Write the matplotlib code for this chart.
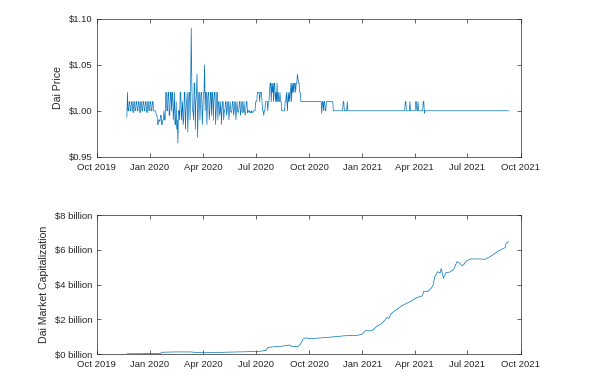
import numpy as np
import pandas as pd
import matplotlib
matplotlib.use("Agg")
import matplotlib.pyplot as plt
import matplotlib.dates as mdates
from matplotlib.ticker import FuncFormatter, MultipleLocator

# ===== 全局设置 =====
plt.rcParams.update({
    'font.family': ['Liberation Sans', 'DejaVu Sans'],
    'xtick.direction': 'in',
    'ytick.direction': 'in',
    'xtick.top': True,
    'ytick.right': True,
})

# ===== Dai 价格：2019-11-22 起的日度数据 =====
price_start = "2019-11-22"
price_daily = [
    # 2019-11-22 起
    0.993, 1.02, 1.00, 1.00, 1.01, 1.01, 1.00, 1.00, 1.01, 1.01,
    1.00, 0.998, 1.01, 1.01, 1.00, 1.00, 1.01, 1.01, 1.00, 1.00,
    1.01, 1.01, 1.00, 0.998, 1.01, 1.01, 1.00, 1.00, 1.01, 1.01,
    1.00, 1.00, 1.01, 1.01, 1.00, 0.998, 1.01, 1.01, 1.00, 1.00,
    1.01, 1.01, 1.00, 1.00, 1.01, 1.01, 1.00, 1.00, 1.00,
    # 2020-01 下跌
    1.00, 0.998, 0.995, 0.995, 0.985, 0.985, 0.99, 0.99, 0.988, 0.995,
    0.995, 0.985, 0.985, 0.99, 0.99, 1.00, 0.99, 0.99,
    # 2020-01-28 起
    1.02, 1.02, 1.00, 1.00, 1.02, 1.02, 0.995, 0.995, 1.02, 1.02,
    1.00, 1.02, 1.02, 0.99, 1.00, 1.02, 0.985, 0.985, 1.01, 0.98,
    0.99, 0.965,
    1.00, 1.00, 0.99, 1.02, 1.02, 0.99, 1.00, 1.01, 0.985, 0.99,
    1.02, 1.02, 0.98, 1.00, 1.01, 1.02, 0.977, 1.00, 1.02, 1.02,
    0.99, 1.03,
    # 2020-03-12
    1.09,
    1.03, 1.00, 1.00, 0.99, 1.03, 1.03, 0.98, 1.01, 1.02, 1.04,
    0.971, 1.00, 1.02, 1.02, 0.99, 1.01, 1.02, 1.02, 0.985, 1.00,
    1.02, 1.02,
    1.05,
    1.00, 1.02, 1.02, 0.985, 1.01, 1.02, 1.02, 0.99, 1.00,
    1.02, 1.02, 0.995, 1.02, 1.02, 0.99, 1.01, 1.02, 1.02, 0.985,
    1.00, 1.02, 1.02, 0.99, 1.01, 1.01, 0.995, 1.00, 1.01, 0.985,
    1.00, 1.01, 1.01, 0.99, 1.00, 1.00,
    # 2020-05-10 起
    1.01, 1.01, 0.995, 1.00, 1.01, 1.01, 0.99, 1.00, 1.01, 1.00,
    0.998, 1.00, 1.01, 1.01, 0.995, 1.00, 1.01, 1.01, 0.99, 1.00,
    1.01, 1.00, 0.998, 1.00, 1.01, 1.01, 0.995, 1.00, 1.01, 1.01,
    0.998, 1.00, 1.01, 1.00, 0.995, 1.00, 1.01, 1.01, 0.998, 1.00,
    1.00, 0.998, 1.00,
    0.998, 0.998, 1.00, 0.998, 0.998, 1.00, 1.00, 1.00, 1.00,
    1.01, 1.01, 1.01, 1.02,
    1.02, 1.02, 1.02, 1.01, 1.02, 1.02, 1.02, 1.01,
    1.00, 1.00, 0.995, 1.00, 1.00,
    1.01, 1.01, 1.01, 1.01, 1.00, 1.01, 1.01, 1.02, 1.03,
    1.03, 1.01, 1.03, 1.02, 1.03, 1.01, 1.03, 1.03, 1.01, 1.02,
    1.01, 1.03, 1.01, 1.02, 1.01, 1.01, 1.02, 1.01, 1.01, 1.00,
    1.00, 1.00, 1.00, 1.00, 1.00, 1.01,
    1.01, 1.02, 1.01, 1.00, 1.02, 1.01, 1.02, 1.01,
    1.02, 1.03, 1.01, 1.03, 1.02, 1.03, 1.02, 1.03, 1.03, 1.02,
    1.03, 1.03,
    1.04, 1.035, 1.03, 1.03, 1.02, 1.02,
]

# 之后价格基本稳定，只记录变化点
calm_dates = [
    "2020-09-17", "2020-10-22", "2020-10-23", "2020-10-24", "2020-10-25",
    "2020-10-26", "2020-10-27", "2020-10-28", "2020-10-29", "2020-10-30",
    "2020-10-31", "2020-11-11", "2020-11-12", "2020-11-28", "2020-11-29",
    "2020-11-30", "2020-12-01", "2020-12-05", "2020-12-06", "2020-12-07",
    "2021-03-15", "2021-03-16", "2021-03-17", "2021-03-18", "2021-03-23",
    "2021-03-24", "2021-03-25", "2021-04-02", "2021-04-03", "2021-04-04",
    "2021-04-05", "2021-04-06", "2021-04-07", "2021-04-08", "2021-04-15",
    "2021-04-16", "2021-04-17", "2021-04-18", "2021-04-19", "2021-09-10",
]
calm_prices = [
    1.01, 1.01, 0.997, 1.01, 1.01,
    1.00, 1.01, 1.01, 1.00, 1.00,
    1.01, 1.01, 1.00, 1.00, 1.01,
    1.01, 1.00, 1.00, 1.01, 1.00,
    1.00, 1.01, 1.01, 1.00, 1.00,
    1.01, 1.00, 1.00, 1.01, 1.01,
    1.00, 1.00, 1.01, 1.00, 1.00,
    1.01, 1.01, 0.997, 1.00, 1.00,
]

# ===== Dai 市值（十亿美元） =====
cap_dates = [
    "2019-11-22", "2019-12-23", "2020-01-19", "2020-01-21", "2020-02-13",
    "2020-03-10", "2020-03-18", "2020-04-01", "2020-04-13", "2020-05-18",
    "2020-06-30", "2020-07-12", "2020-07-19", "2020-07-22", "2020-08-03",
    "2020-08-15", "2020-08-29", "2020-09-01", "2020-09-12", "2020-09-16",
    "2020-09-21", "2020-09-26", "2020-10-03", "2020-11-06", "2020-12-02",
    "2020-12-24", "2020-12-31", "2021-01-07", "2021-01-14", "2021-01-19",
    "2021-01-26", "2021-02-02", "2021-02-09", "2021-02-12", "2021-02-16",
    "2021-02-19", "2021-02-26", "2021-03-03", "2021-03-09", "2021-03-16",
    "2021-03-24", "2021-03-29", "2021-04-02", "2021-04-10", "2021-04-14",
    "2021-04-17", "2021-04-24", "2021-04-30", "2021-05-03", "2021-05-06",
    "2021-05-11", "2021-05-15", "2021-05-17", "2021-05-21", "2021-05-25",
    "2021-06-01", "2021-06-05", "2021-06-08", "2021-06-13", "2021-06-17",
    "2021-06-22", "2021-06-25", "2021-06-29", "2021-07-07", "2021-07-23",
    "2021-07-31", "2021-08-09", "2021-08-18", "2021-08-26", "2021-09-04",
    "2021-09-06", "2021-09-10",
]
cap_billion = [
    0.01, 0.02, 0.03, 0.10, 0.12,
    0.12, 0.10, 0.07, 0.08, 0.11,
    0.14, 0.17, 0.22, 0.38, 0.42,
    0.45, 0.52, 0.43, 0.44, 0.55,
    0.86, 0.93, 0.88, 0.97, 1.05,
    1.08, 1.13, 1.35, 1.33, 1.38,
    1.60, 1.72, 1.95, 2.10, 2.05,
    2.30, 2.50, 2.60, 2.75, 2.88,
    3.01, 3.10, 3.20, 3.30, 3.34,
    3.60, 3.60, 3.80, 3.97, 4.45,
    4.74, 4.65, 4.92, 4.36, 4.68,
    4.72, 4.80, 4.90, 5.31, 5.25,
    5.08, 5.15, 5.35, 5.47, 5.47,
    5.45, 5.60, 5.80, 5.98, 6.12,
    6.38, 6.46,
]

# ===== 组装数据 =====
p_dates = pd.date_range(price_start, periods=len(price_daily), freq="D")
price_x = list(p_dates) + list(pd.to_datetime(calm_dates))
price_y = list(price_daily) + calm_prices
cap_x = pd.to_datetime(cap_dates)
cap_y = np.array(cap_billion) * 1e9

line_color = "#0072BD"
ax_color = "0.15"
x_lo, x_hi = pd.Timestamp("2019-10-01"), pd.Timestamp("2021-10-01")

fig = plt.figure(figsize=(5.98, 3.88), dpi=100)
ax1 = fig.add_axes([0.1617, 0.5962, 0.7090, 0.3549])
ax2 = fig.add_axes([0.1617, 0.0876, 0.7090, 0.3582])


def style_axis(ax):
    ax.set_xlim(x_lo, x_hi)
    ax.xaxis.set_major_locator(mdates.MonthLocator(bymonth=[1, 4, 7, 10]))
    ax.xaxis.set_major_formatter(mdates.DateFormatter("%b %Y"))
    ax.tick_params(axis="both", labelsize=6.8, colors=ax_color,
                   length=3, width=0.5, pad=3)
    ax.tick_params(axis="x", pad=4.5)
    for s in ax.spines.values():
        s.set_color(ax_color)
        s.set_linewidth(0.5)


ax1.plot(price_x, price_y, color=line_color, linewidth=0.5)
style_axis(ax1)
ax1.set_ylim(0.95, 1.10)
ax1.yaxis.set_major_locator(MultipleLocator(0.05))
ax1.yaxis.set_major_formatter(FuncFormatter(lambda v, p: "\\$%.2f" % v))
ax1.set_ylabel("Dai Price", fontsize=7.6, color=ax_color, labelpad=4)

ax2.plot(cap_x, cap_y, color=line_color, linewidth=0.5)
style_axis(ax2)
ax2.set_ylim(0, 8e9)
ax2.yaxis.set_major_locator(MultipleLocator(2e9))
ax2.yaxis.set_major_formatter(FuncFormatter(lambda v, p: "\\$%d billion" % round(v / 1e9)))
ax2.set_ylabel("Dai Market Capitalization", fontsize=7.6, color=ax_color, labelpad=4)

fig.savefig("out.png", dpi=100)
